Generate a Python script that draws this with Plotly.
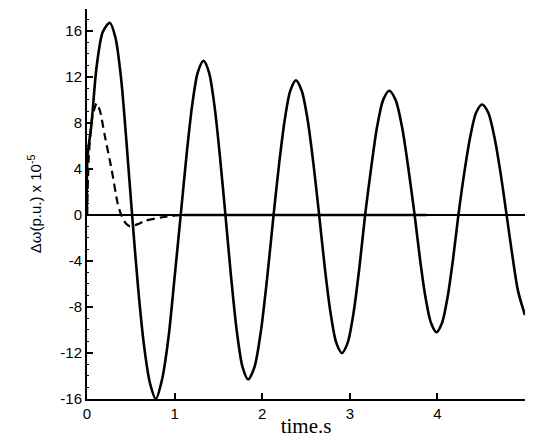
import plotly.graph_objects as go

# Solid curve (sustained oscillation)
solid_t = [0, 0.005, 0.05, 0.11, 0.18, 0.26, 0.325, 0.39, 0.45, 0.515,
           0.583, 0.65, 0.718, 0.786, 0.857, 0.928, 0.999, 1.07,
           1.135, 1.20, 1.265, 1.33, 1.3925, 1.455, 1.5175, 1.58,
           1.645, 1.71, 1.775, 1.84, 1.9125, 1.985, 2.0575, 2.13,
           2.194, 2.258, 2.321, 2.385, 2.451, 2.518, 2.584, 2.65,
           2.715, 2.78, 2.845, 2.91, 2.976, 3.043, 3.109, 3.175,
           3.244, 3.3125, 3.381, 3.45, 3.5225, 3.595, 3.6675, 3.74,
           3.8025, 3.865, 3.9275, 3.99, 4.0525, 4.115, 4.1775, 4.24,
           4.3075, 4.375, 4.4425, 4.51, 4.58, 4.65, 4.72, 4.79,
           4.855, 4.92, 5.0]
solid_v = [0, 5.0, 7.8, 12.9, 15.9, 16.7, 15.4, 11.8, 6.4, 0,
           -6.3, -11.3, -14.6, -16.0, -14.3, -10.8, -5.5, 0,
           5.1, 9.5, 12.4, 13.4, 12.4, 9.5, 5.1, 0,
           -5.4, -10.1, -13.2, -14.3, -13.2, -10.1, -5.4, 0,
           4.5, 8.3, 10.8, 11.7, 10.8, 8.3, 4.5, 0,
           -4.6, -8.5, -11.1, -12.0, -11.1, -8.5, -4.6, 0,
           4.1, 7.7, 10.0, 10.8, 10.0, 7.7, 4.1, 0,
           -3.9, -7.2, -9.4, -10.2, -9.4, -7.2, -3.9, 0,
           3.7, 6.8, 8.9, 9.6, 8.9, 6.8, 3.7, 0,
           -3.5, -6.6, -8.7]

# Dashed curve (damped response)
dash_t = [0, 0.02, 0.06, 0.11, 0.15, 0.20, 0.28, 0.35, 0.39, 0.44, 0.49, 0.58, 0.67, 0.86, 1.01, 1.1]
dash_v = [0, 5.0, 8.5, 9.7, 9.0, 7.0, 4.0, 1.0, 0, -0.7, -1.0, -0.8, -0.5, -0.2, -0.05, 0]

# Settled part of the damped response along zero
settled_t = [1.1, 3.88]
settled_v = [0, 0]

x_ticks = [0, 1, 2, 3, 4, 5]
x_labels = ["0", "1", "2", "3", "4", "5"]
y_ticks = [-16, -12, -8, -4, 0, 4, 8, 12, 16, 18]
y_labels = ["-16", "-12", "-8", "-4", "0", "4", "8", "12", "16", ""]

fig = go.Figure()
fig.add_trace(go.Scatter(x=solid_t, y=solid_v, mode="lines",
                         line=dict(color="black", width=2.6, shape="spline", smoothing=0.8)))
fig.add_trace(go.Scatter(x=dash_t, y=dash_v, mode="lines",
                         line=dict(color="black", width=2.2, dash="8px,5px", shape="spline", smoothing=0.6)))
fig.add_trace(go.Scatter(x=settled_t, y=settled_v, mode="lines",
                         line=dict(color="black", width=2.6)))

tick_font = dict(family="Liberation Sans, Arial, sans-serif", size=15, color="black")

# the page has an 8px body margin, so the figure is offset by 8px right and down
fig.update_layout(
    width=517, height=430,
    margin=dict(l=79, r=0, t=1, b=39),
    paper_bgcolor="white", plot_bgcolor="white",
    showlegend=False,
    xaxis=dict(range=[0, 5], tickvals=x_ticks, ticktext=x_labels, automargin=False,
               showline=True, linecolor="black", linewidth=2,
               ticks="inside", ticklen=6, tickwidth=1.5, tickcolor="black",
               showgrid=False, zeroline=False, tickfont=tick_font,
               title=dict(text="time.s", standoff=11,
                          font=dict(family="Liberation Serif, Times New Roman, serif", size=21, color="black"))),
    yaxis=dict(range=[-16, 17.9], tickvals=y_ticks, ticktext=y_labels, automargin=False,
               showline=True, linecolor="black", linewidth=2,
               ticks="inside", ticklen=6, tickwidth=1.5, tickcolor="black",
               minor=dict(dtick=1, ticks="inside", ticklen=2, tickwidth=1, tickcolor="black"),
               showgrid=False, zeroline=True, zerolinecolor="black", zerolinewidth=1.5,
               tickfont=tick_font,
               title=dict(text="Δω(p.u.) x 10<sup>-5</sup>", standoff=15,
                          font=dict(family="Liberation Sans, Arial, sans-serif", size=15, color="black"))),
)

fig.write_html("out.html")
